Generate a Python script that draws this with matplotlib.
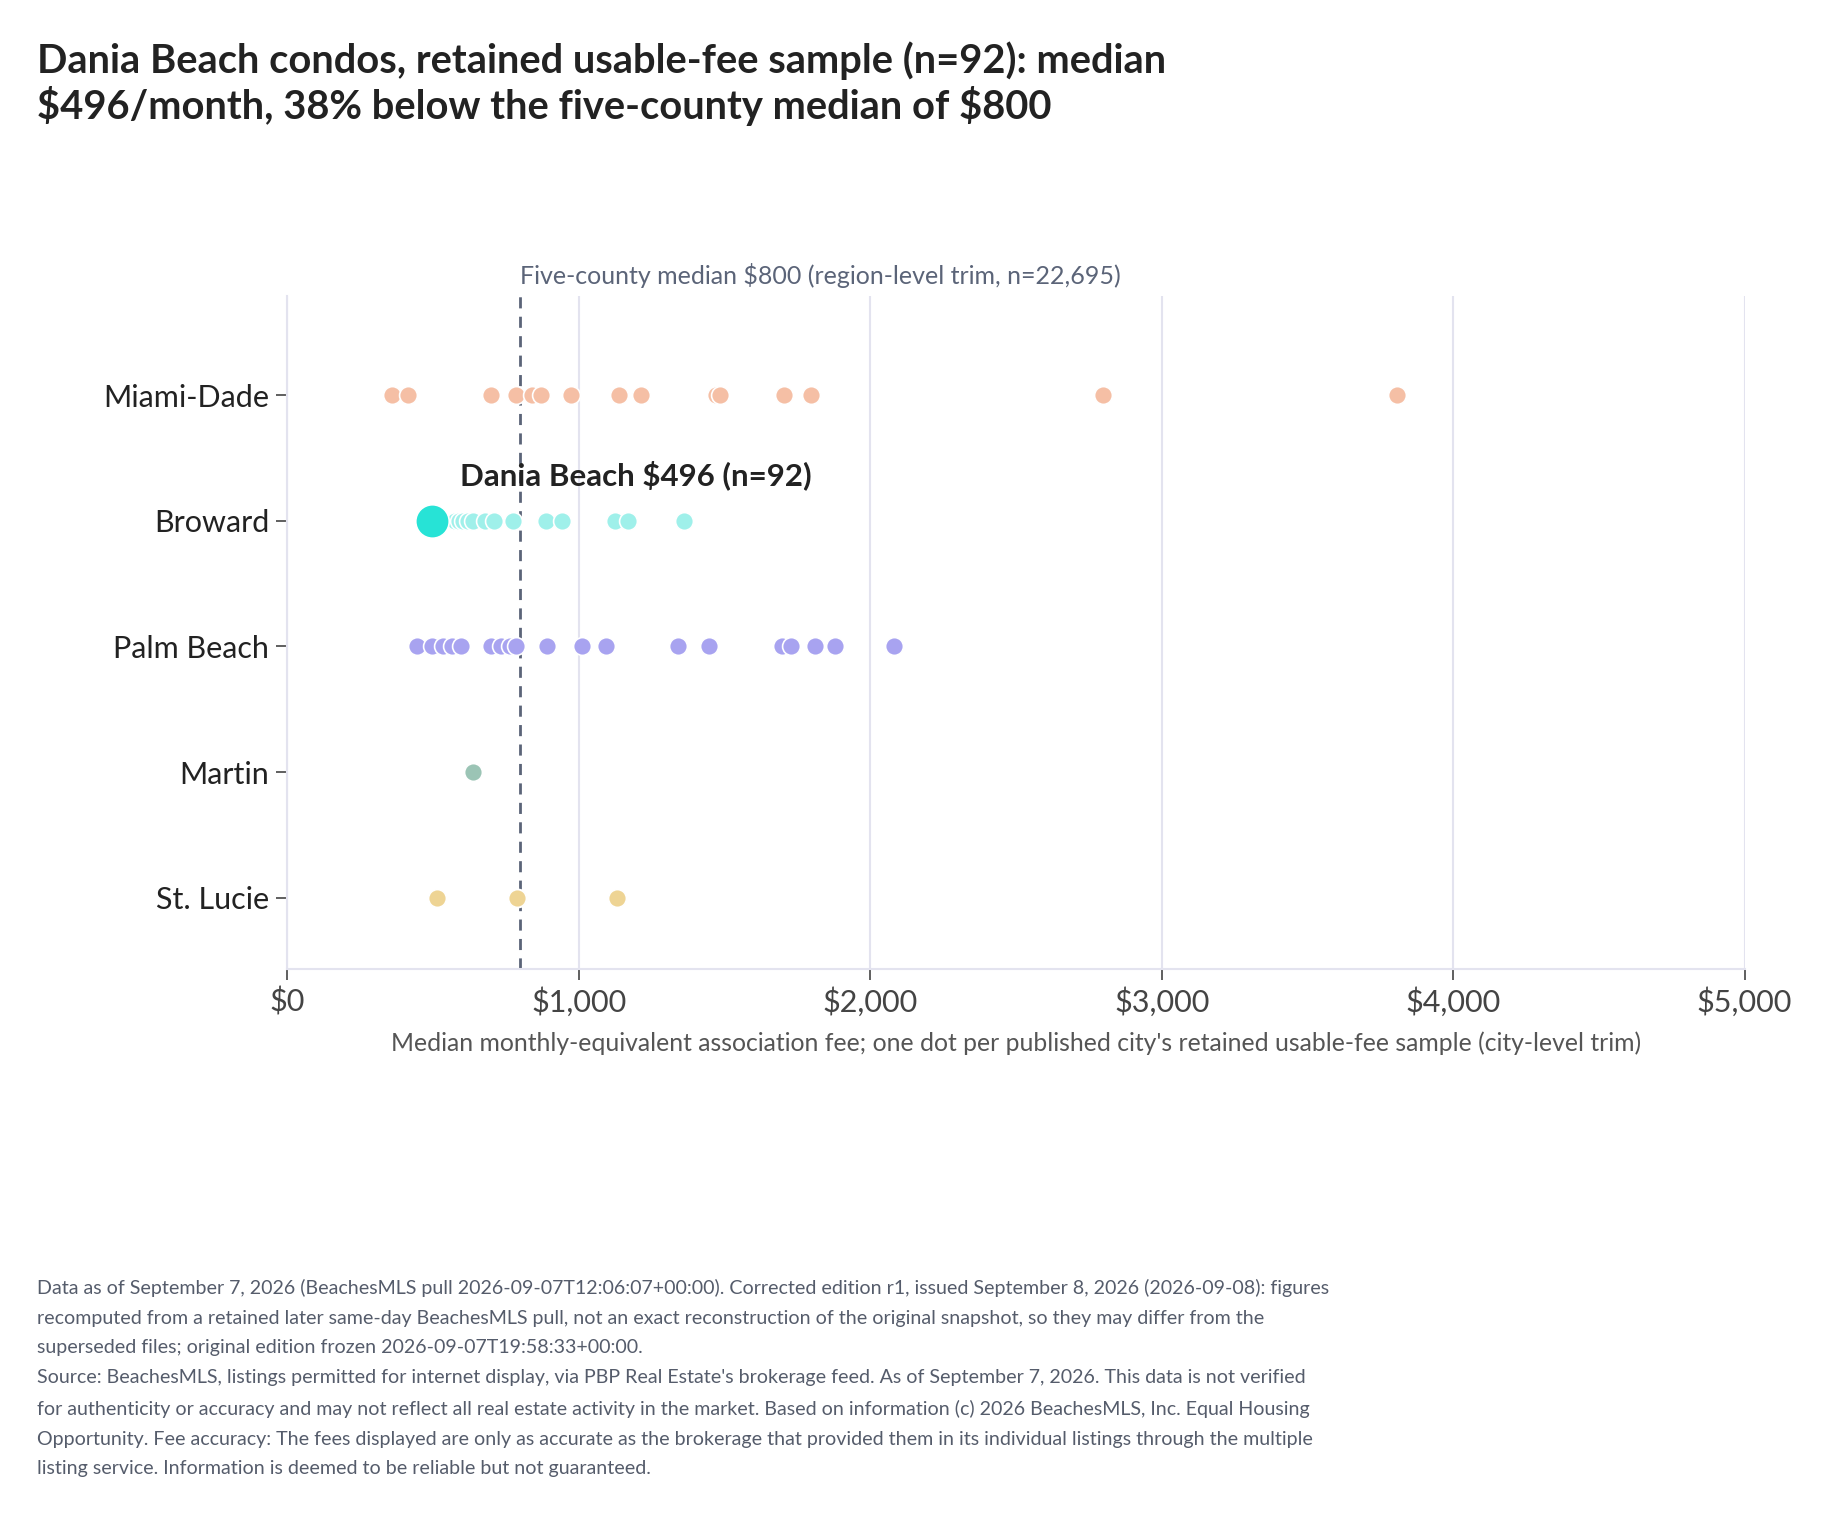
import matplotlib
matplotlib.use("Agg")
import matplotlib.pyplot as plt
from matplotlib.ticker import FuncFormatter

# counties (top to bottom) and city-level median fees
counties = ['Miami-Dade', 'Broward', 'Palm Beach', 'Martin', 'St. Lucie']
miami_dade = [359, 413, 699, 786, 841, 870, 972, 1137, 1214, 1470, 1485, 1705, 1797, 2800, 3808]
broward = [496, 576, 590, 602, 619, 636, 678, 710, 773, 887, 941, 1124, 1168, 1360]
palm_beach = [446, 497, 535, 565, 596, 699, 733, 764, 786, 890, 1012, 1095, 1339, 1447, 1697,
              1729, 1809, 1879, 2083]
martin = [638]
st_lucie = [515, 792, 787, 1130]
fees = [miami_dade, broward, palm_beach, martin, st_lucie]
colors = ['#f5bfa5', '#9ff0ea', '#a8a3f0', '#9bc4b5', '#eed494']

highlight_city = 'Dania Beach'
highlight_fee = 496
highlight_n = 92
region_median = 800
xticks = [0, 1000, 2000, 3000, 4000, 5000]

title = ("Dania Beach condos, retained usable-fee sample (n=92): median\n"
         "$496/month, 38% below the five-county median of $800")
footnote = ("Data as of September 7, 2026 (BeachesMLS pull 2026-09-07T12:06:07+00:00). Corrected edition r1, issued September 8, 2026 (2026-09-08): figures\n"
            "recomputed from a retained later same-day BeachesMLS pull, not an exact reconstruction of the original snapshot, so they may differ from the\n"
            "superseded files; original edition frozen 2026-09-07T19:58:33+00:00.\n"
            "Source: BeachesMLS, listings permitted for internet display, via PBP Real Estate's brokerage feed. As of September 7, 2026. This data is not verified\n"
            "for authenticity or accuracy and may not reflect all real estate activity in the market. Based on information (c) 2026 BeachesMLS, Inc. Equal Housing\n"
            "Opportunity. Fee accuracy: The fees displayed are only as accurate as the brokerage that provided them in its individual listings through the multiple\n"
            "listing service. Information is deemed to be reliable but not guaranteed.")

plt.rcParams['font.family'] = ['Lato', 'DejaVu Sans']
plt.rcParams['text.parse_math'] = False

fig = plt.figure(figsize=(18.3, 15.17), dpi=100)
ax = fig.add_axes([0.157, 0.361, 0.7963, 0.444])

for i, (vals, c) in enumerate(zip(fees, colors)):
    ax.scatter(vals, [i] * len(vals), s=165, color=c, edgecolors='white', linewidths=1.2, zorder=3)

ax.scatter([highlight_fee], [1], s=580, color='#27e3d6', edgecolors='white', linewidths=1.2, zorder=4)
ax.text(1195, 0.64, f"{highlight_city} ${highlight_fee} (n={highlight_n})", ha='center', va='center',
        fontsize=22.5, fontweight='bold', color='#222222', zorder=5)

ax.axvline(region_median, color='#5b6478', linestyle=(0, (4, 3)), linewidth=2, zorder=2)
ax.text(region_median, -0.85, "Five-county median $800 (region-level trim, n=22,695)", ha='left',
        va='bottom', fontsize=18, color='#5b6478', clip_on=False)

ax.set_xlim(0, 5000)
ax.set_ylim(4.57, -0.79)
ax.set_xticks(xticks)
ax.xaxis.set_major_formatter(FuncFormatter(lambda v, p: f"${v:,.0f}"))
ax.set_yticks(range(len(counties)))
ax.set_yticklabels(counties)
ax.grid(True, axis='x', color='#e3e3ef', linewidth=1.5, zorder=0)
ax.set_axisbelow(True)
for side in ['top', 'right']:
    ax.spines[side].set_visible(False)
for side in ['left', 'bottom']:
    ax.spines[side].set_color('#e3e3ef')
    ax.spines[side].set_linewidth(1.5)
ax.tick_params(axis='y', labelsize=22, labelcolor='#222222', color='#444444', length=8, width=1.2, pad=5)
ax.tick_params(axis='x', labelsize=22, labelcolor='#444444', color='#444444', length=8, width=1.2, pad=5)
ax.set_xlabel("Median monthly-equivalent association fee; one dot per published city's retained "
              "usable-fee sample (city-level trim)", fontsize=17.8, color='#555555', labelpad=10)

fig.text(0.02, 0.973, title, ha='left', va='top', fontsize=28.7, fontweight='bold', color='#222222',
         linespacing=1.2)
fig.text(0.02, 0.157, footnote, ha='left', va='top', fontsize=14.1, color='#555c6b', linespacing=1.91)

fig.savefig('out.png', dpi=100)
